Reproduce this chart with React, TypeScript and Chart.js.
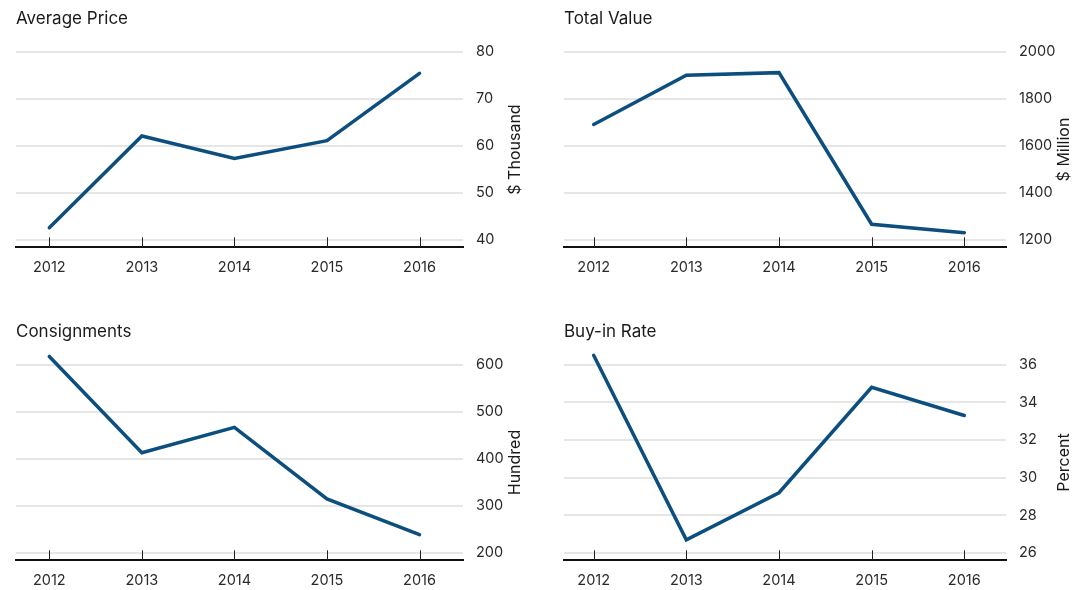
import React, { useEffect, useRef } from 'react';
import { Chart, registerables } from 'chart.js';

Chart.register(...registerables);

// ---- data ----
const years = [2012, 2013, 2014, 2015, 2016];

const avgPrice = [42.6, 62.1, 57.3, 61.1, 75.4];
const totalValue = [1691, 1900, 1911, 1267, 1231];
const consignments = [617.5, 413, 467, 315, 239];
const buyInRate = [36.5, 26.7, 29.2, 34.8, 33.3];

const avgPriceTicks = [40, 50, 60, 70, 80];
const totalValueTicks = [1200, 1400, 1600, 1800, 2000];
const consignmentTicks = [200, 300, 400, 500, 600];
const buyInTicks = [26, 28, 30, 32, 34, 36];

const titles = ['Average Price', 'Total Value', 'Consignments', 'Buy-in Rate'];
const units = ['$ Thousand', '$ Million', 'Hundred', 'Percent'];

// ---- style ----
const FONT = 'Inter, "Noto Sans", sans-serif';
const LINE = '#0c4f7f';
const CANVAS_H = 277;

type PanelDef = {
  title: string;
  unit: string;
  values: number[];
  ticks: number[];
  left: number;
  top: number;
  width: number;
  padLeft: number;
  axisWidth: number;
  xPadL: number;
  xPadR: number;
  unitOffset: number;
};

const leftCol = { left: 0, width: 540, padLeft: 16, axisWidth: 77, xPadL: 0.36, xPadR: 0.47, unitOffset: 52 };
const rightCol = { left: 540, width: 533, padLeft: 24, axisWidth: 67, xPadL: 0.32, xPadR: 0.45, unitOffset: 58 };

const panels: PanelDef[] = [
  { ...leftCol, top: 0, title: titles[0], unit: units[0], values: avgPrice, ticks: avgPriceTicks },
  { ...rightCol, top: 0, title: titles[1], unit: units[1], values: totalValue, ticks: totalValueTicks },
  { ...leftCol, top: 313, title: titles[2], unit: units[2], values: consignments, ticks: consignmentTicks },
  { ...rightCol, top: 313, title: titles[3], unit: units[3], values: buyInRate, ticks: buyInTicks },
];

function LinePanel({ p }: { p: PanelDef }) {
  const ref = useRef<HTMLCanvasElement>(null);

  useEffect(() => {
    if (!ref.current) return;
    const ticks = p.ticks;
    const lo = ticks[0];
    const hi = ticks[ticks.length - 1];
    const yMin = lo - (hi - lo) * 0.0388;

    const extras = {
      id: 'extras',
      afterDraw(chart: any) {
        const { ctx, chartArea } = chart;
        const xs = chart.scales.x;
        ctx.save();
        ctx.strokeStyle = '#222';
        ctx.lineWidth = 1;
        ctx.beginPath();
        xs.ticks.forEach((t: any) => {
          const px = Math.round(xs.getPixelForValue(t.value)) + 0.5;
          ctx.moveTo(px, chartArea.bottom);
          ctx.lineTo(px, chartArea.bottom - 10);
        });
        ctx.stroke();
        ctx.fillStyle = '#1a1a1a';
        ctx.font = `16px ${FONT}`;
        ctx.translate(chartArea.right + p.unitOffset, (chartArea.top + chartArea.bottom) / 2);
        ctx.rotate(-Math.PI / 2);
        ctx.textAlign = 'center';
        ctx.textBaseline = 'middle';
        ctx.fillText(p.unit, 0, 0);
        ctx.restore();
      },
    };

    const chart = new Chart(ref.current, {
      type: 'line',
      data: {
        datasets: [
          {
            data: years.map((x, i) => ({ x, y: p.values[i] })),
            borderColor: LINE,
            borderWidth: 3.5,
            pointRadius: 0,
            tension: 0,
            clip: false as any,
            borderCapStyle: 'round',
          },
        ],
      },
      options: {
        responsive: false,
        animation: false,
        devicePixelRatio: 1,
        layout: { padding: { left: p.padLeft, right: 0, top: 0, bottom: 0 } },
        plugins: {
          legend: { display: false },
          tooltip: { enabled: false },
          title: {
            display: true,
            text: p.title,
            align: 'start',
            color: '#1a1a1a',
            font: { family: FONT, size: 17, weight: 'normal', lineHeight: 1.2 },
            padding: { top: 8.5, bottom: 22.8 },
          },
        },
        scales: {
          x: {
            type: 'linear',
            min: years[0] - p.xPadL,
            max: years[years.length - 1] + p.xPadR,
            afterBuildTicks: (s: any) => {
              s.ticks = years.map((v) => ({ value: v }));
            },
            afterFit: (s: any) => {
              s.height = 29.7;
            },
            grid: { display: false, drawTicks: false },
            border: { display: true, color: '#111', width: 2 },
            ticks: {
              padding: 11.5,
              color: '#2a2a2a',
              font: { family: FONT, size: 14.5 },
              maxRotation: 0,
              autoSkip: false,
              callback: (v: any) => String(v),
            },
          },
          y: {
            position: 'right',
            min: yMin,
            max: hi,
            afterBuildTicks: (s: any) => {
              s.ticks = ticks.map((v) => ({ value: v }));
            },
            afterFit: (s: any) => {
              s.width = p.axisWidth;
            },
            grid: { color: '#e6e6e6', lineWidth: 2, drawTicks: false },
            border: { display: false },
            ticks: {
              padding: 13,
              color: '#2a2a2a',
              font: { family: FONT, size: 14.5 },
              callback: (v: any) => String(v),
            },
          },
        },
      } as any,
      plugins: [extras],
    });
    return () => chart.destroy();
  }, [p]);

  return (
    <canvas
      ref={ref}
      width={p.width}
      height={CANVAS_H}
      style={{ position: 'absolute', left: p.left, top: p.top, width: p.width, height: CANVAS_H }}
    />
  );
}

export default function App() {
  return (
    <div style={{ position: 'absolute', left: 0, top: 0, width: 1073, height: 590, background: '#fff', overflow: 'hidden' }}>
      {panels.map((p, i) => (
        <LinePanel key={i} p={p} />
      ))}
    </div>
  );
}
